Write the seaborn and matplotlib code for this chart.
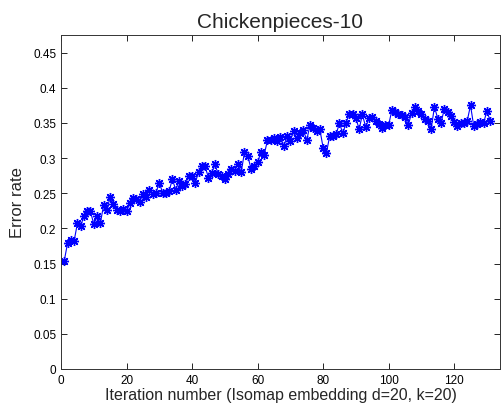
import matplotlib
matplotlib.use("Agg")
import matplotlib.pyplot as plt
import seaborn as sns
import numpy as np
import pandas as pd

error_rate = [
    0.154, 0.179, 0.183, 0.182, 0.207, 0.204, 0.217, 0.224, 0.224, 0.206,
    0.217, 0.207, 0.233, 0.226, 0.245, 0.234, 0.226, 0.224, 0.228, 0.225,
    0.236, 0.243, 0.242, 0.238, 0.249, 0.245, 0.255, 0.249, 0.251, 0.265,
    0.251, 0.250, 0.253, 0.270, 0.255, 0.267, 0.260, 0.263, 0.275, 0.274,
    0.265, 0.280, 0.289, 0.288, 0.272, 0.279, 0.291, 0.277, 0.275, 0.270,
    0.278, 0.284, 0.282, 0.291, 0.280, 0.308, 0.303, 0.285, 0.289, 0.294,
    0.308, 0.304, 0.325, 0.325, 0.328, 0.324, 0.330, 0.317, 0.331, 0.324,
    0.338, 0.328, 0.335, 0.340, 0.325, 0.347, 0.343, 0.339, 0.341, 0.315,
    0.307, 0.331, 0.331, 0.334, 0.350, 0.335, 0.350, 0.363, 0.362, 0.357,
    0.341, 0.362, 0.344, 0.357, 0.358, 0.353, 0.349, 0.343, 0.347, 0.347,
    0.368, 0.365, 0.363, 0.361, 0.359, 0.347, 0.364, 0.372, 0.367, 0.362,
    0.356, 0.353, 0.342, 0.373, 0.356, 0.350, 0.370, 0.365, 0.360, 0.351,
    0.346, 0.350, 0.350, 0.353, 0.375, 0.345, 0.348, 0.351, 0.350, 0.367,
    0.353,
]
iteration = list(range(1, len(error_rate) + 1))

x_ticks = [0, 20, 40, 60, 80, 100, 120]
y_ticks = [0, 0.05, 0.1, 0.15, 0.2, 0.25, 0.3, 0.35, 0.4, 0.45]
y_tick_labels = ["0", "0.05", "0.1", "0.15", "0.2", "0.25", "0.3", "0.35", "0.4", "0.45"]

title = "Chickenpieces-10"
x_label = "Iteration number (Isomap embedding d=20, k=20)"
y_label = "Error rate"

sns.set_style("ticks")
plt.rcParams["font.family"] = ["Liberation Sans", "DejaVu Sans"]

df = pd.DataFrame({"iteration": iteration, "error": error_rate})

fig = plt.figure(figsize=(5.02, 4.10), dpi=100)
ax = fig.add_axes([61 / 502, 40 / 410, 439 / 502, 334 / 410])

sns.lineplot(data=df, x="iteration", y="error", ax=ax, color="#0000ff",
             marker=(8, 2, 0), markersize=6.5, markeredgecolor="#0000ff",
             markeredgewidth=1.0, linewidth=0.8)

ax.set_xlim(0, 134)
ax.set_ylim(0, 0.475)
ax.set_xticks(x_ticks)
ax.set_xticklabels([str(t) for t in x_ticks])
ax.set_yticks(y_ticks)
ax.set_yticklabels(y_tick_labels)
ax.tick_params(direction="in", top=True, right=True, labelsize=8.5,
               length=4, width=0.6, colors="black")
for s in ax.spines.values():
    s.set_visible(True)
    s.set_linewidth(0.7)
    s.set_color("#333333")

ax.set_title(title, fontsize=15, pad=6)
ax.set_xlabel(x_label, fontsize=11.5, labelpad=1)
ax.set_ylabel(y_label, fontsize=12, labelpad=6)

fig.savefig("out.png", dpi=100)
